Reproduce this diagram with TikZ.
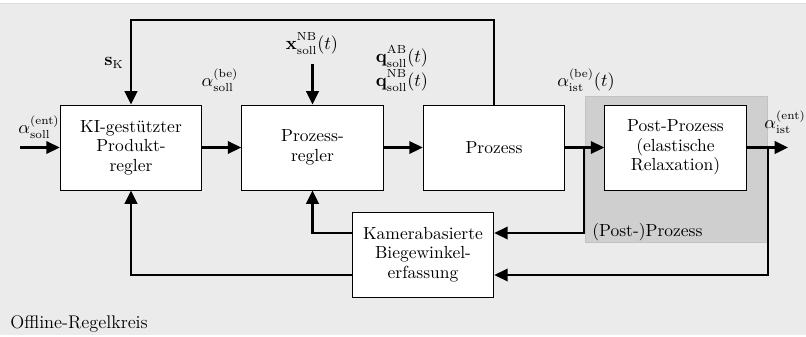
\documentclass[tikz,border=0pt]{standalone}
\usepackage{amsmath}
\usetikzlibrary{arrows.meta}
\colorlet{bgx}{black!8}
\colorlet{ppx}{black!19}
\tikzset{
    block/.style={draw,fill=white,line width=0.6pt,minimum width=85pt,minimum height=51pt,align=center,inner sep=1pt,font=\fontsize{10.5}{11.7}\selectfont},
    sig/.style={line width=1.3pt,-{Triangle[length=8pt,width=7.5pt]}},
    lbl/.style={inner sep=0pt,font=\fontsize{10.5}{12}\selectfont}
}
\newcommand{\sollsup}[2]{#1_{\mathrm{soll}}^{\mathrm{#2}\vphantom{(}}}
\begin{document}
\begin{tikzpicture}[x=0.6pt,y=-0.6pt]
        \useasboundingbox (0,0) rectangle (806,336);
        % background
        \fill [bgx] (0,3) rectangle (806,335);
        \draw [black!13,line width=0.6pt] (0,3) -- (806,3);
        \filldraw [ppx,draw=black!24,line width=0.6pt] (585,96) rectangle (767,242);
        % blocks
        \node [block] (kir) at (131,147.5) {KI-gestützter\\Produkt-\\regler};
        \node [block] (preg) at (312.5,147.5) {Prozess-\\regler};
        \node [block] (proz) at (494,147.5) {Prozess};
        \node [block] (post) at (675.5,147.5) {Post-Prozess\\(elastische\\Relaxation)};
        \node [block] (kam) at (423,254.5) {Kamerabasierte\\Biegewinkel-\\erfassung};
        % free ends and corners
        \coordinate (in) at (20,147.5);
        \coordinate (out) at (788,147.5);
        \coordinate (xin) at (312.5,64);
        \coordinate (br1) at (584,147.5);
        \coordinate (br2) at (768,147.5);
        % signals
        \draw [sig] (in) -- (kir);
        \draw [sig] (kir) -- (preg);
        \draw [sig] (preg) -- (proz);
        \draw [sig] (proz) -- (post);
        \draw [sig] (post) -- (out);
        \draw [sig] (xin) -- (preg);
        \draw [sig] (proz.north) |- (131,20) -- (kir.north);
        \draw [sig] (br1) |- (kam.east |- 0,233);
        \draw [sig] (br2) |- (kam.east |- 0,275);
        \draw [sig] (kam.west |- 0,233) -| (preg.south);
        \draw [sig] (kam.west |- 0,275) -| (kir.south);
        % labels
        \node [lbl] (aent) at (39,127) {$\alpha_{\mathrm{soll}}^{(\mathrm{ent})}$};
        \node [lbl] (sk) at (114,63) {$\mathbf{s}_{\mathrm{K}}$};
        \node [lbl] (abe) at (220,80) {$\alpha_{\mathrm{soll}}^{(\mathrm{be})}$};
        \node [lbl] (xnb) at (312,43) {$\sollsup{\mathbf{x}}{NB}(t)$};
        \node [lbl,align=center,font=\fontsize{10.5}{14}\selectfont] (qsoll) at (402,68)
            {$\sollsup{\mathbf{q}}{AB}(t)$\\$\sollsup{\mathbf{q}}{NB}(t)$};
        \node [lbl] (aist) at (586,80) {$\alpha_{\mathrm{ist}}^{(\mathrm{be})}(t)$};
        \node [lbl] (aiente) at (785,122) {$\alpha_{\mathrm{ist}}^{(\mathrm{ent})}$};
        \node [lbl,anchor=west] (pplbl) at (592,232) {(Post-)Prozess};
        \node [lbl,anchor=west,font=\fontsize{11}{12}\selectfont] (offl) at (10,324) {Offline-Regelkreis};
    \end{tikzpicture}
\end{document}
